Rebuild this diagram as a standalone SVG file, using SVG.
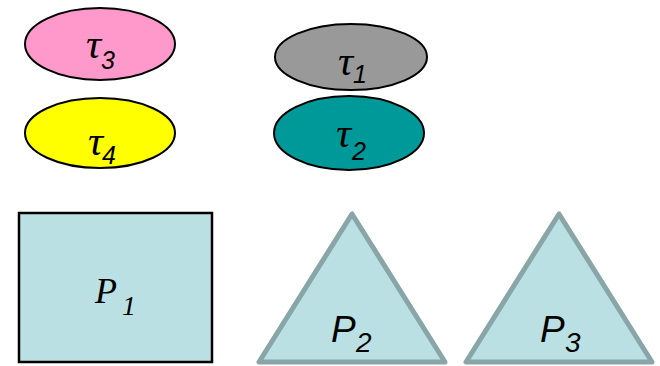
<svg xmlns="http://www.w3.org/2000/svg" width="660" height="366" viewBox="0 0 660 366">
<style>
.el{stroke:#000;stroke-width:2}
.tau{font-family:"Liberation Serif","Times New Roman",serif;font-style:italic;font-size:42px;fill:#000}
.sub{font-family:"Liberation Sans",Arial,sans-serif;font-style:italic;font-size:25px}
.proc{fill:#bbe0e3}
.tri{stroke:#88a5a7;stroke-width:5;stroke-linejoin:round}
.pser{font-family:"Liberation Serif","Times New Roman",serif;font-style:italic;font-size:36px;fill:#000}
.psans{font-family:"Liberation Sans",Arial,sans-serif;font-style:italic;font-size:37px;fill:#000}
</style>
<rect width="660" height="366" fill="#fff"/>
<g id="tau3">
<ellipse class="el" cx="100" cy="44" rx="75" ry="36" fill="#ff99cc"/>
<text class="tau" x="86" y="58">τ<tspan class="sub" x="101" y="69">3</tspan></text>
</g>
<g id="tau4">
<ellipse class="el" cx="100" cy="133" rx="75" ry="35" fill="#ffff00"/>
<text class="tau" x="88" y="155">τ<tspan class="sub" x="102" y="164">4</tspan></text>
</g>
<g id="tau1">
<ellipse class="el" cx="351" cy="57" rx="76" ry="33" fill="#999999"/>
<text class="tau" x="338" y="75">τ<tspan class="sub" x="353" y="83">1</tspan></text>
</g>
<g id="tau2">
<ellipse class="el" cx="349" cy="133" rx="75" ry="37" fill="#009999"/>
<text class="tau" x="336" y="147">τ<tspan class="sub" x="352" y="160">2</tspan></text>
</g>
<g id="P1">
<rect class="proc" x="19" y="213" width="193" height="149" stroke="#000" stroke-width="2.5"/>
<text class="pser" x="95" y="303">P<tspan x="122" y="315" style="font-size:28px">1</tspan></text>
</g>
<g id="P2">
<polygon class="proc tri" points="352,214 259,362 445,362"/>
<text class="psans" x="331" y="342">P<tspan x="356" y="352" style="font-size:28px">2</tspan></text>
</g>
<g id="P3">
<polygon class="proc tri" points="559,214 466,362 652,362"/>
<text class="psans" x="540" y="342">P<tspan x="565" y="352" style="font-size:28px">3</tspan></text>
</g>
<g id="connectors"></g>
</svg>
